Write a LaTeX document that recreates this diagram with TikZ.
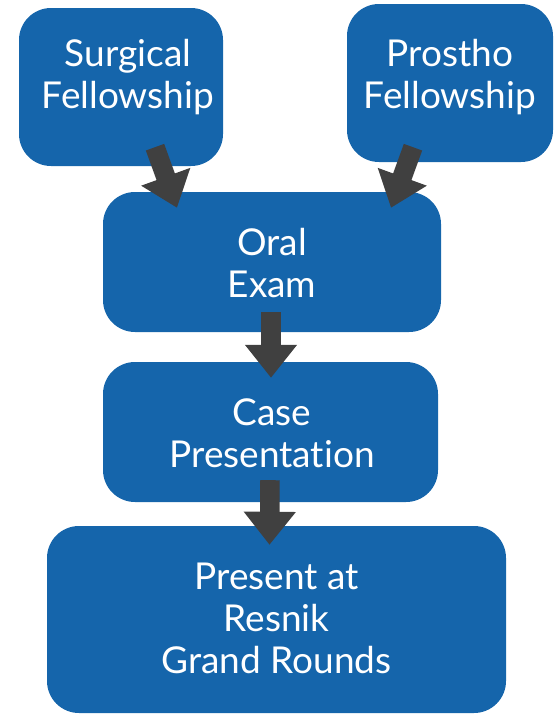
\documentclass[tikz,border=0pt]{standalone}
\usepackage{fontspec}
\setmainfont[Ligatures=NoCommon]{Lato}
\usetikzlibrary{arrows.meta,calc}
\definecolor{boxblue}{RGB}{21,101,171}
\definecolor{arrowgray}{RGB}{64,64,64}
\tikzset{
  box/.style={rectangle, rounded corners=32pt, fill=boxblue, draw=none, inner sep=0pt},
  boxtext/.style={text=white, align=center, inner sep=0pt, font=\fontsize{37}{42}\selectfont},
  bigarrow/.style={draw=arrowgray, line width=19.5pt, -{Triangle[width=50pt,length=33pt,fill=arrowgray]}}
}
\begin{document}
\begin{tikzpicture}[x=1pt,y=-1pt]
\useasboundingbox (0,0) rectangle (558,715);
% boxes
\node[box, minimum width=204pt, minimum height=158pt] (surg) at (121,87) {};
\node[box, minimum width=206pt, minimum height=158pt] (pros) at (450,83) {};
\node[box, minimum width=338pt, minimum height=140pt] (oral) at (272,262) {};
\node[box, minimum width=335pt, minimum height=140pt] (case) at (270.5,432) {};
\node[box, minimum width=459pt, minimum height=187pt] (pres) at (276.5,619.5) {};
% texts
\node[boxtext] (surgt) at (128,77) {Surgical\\Fellowship};
\node[boxtext] (prost) at (450,77) {Prostho\\Fellowship};
\node[boxtext] (oralt) at (272,263) {Oral\\Exam};
\node[boxtext] (caset) at (272,433) {Case\\Presentation};
\node[boxtext] (prest) at (276.5,618) {Present at\\Resnik\\Grand Rounds};
% arrows
\draw[bigarrow] ($(surg.south)+(34,-19)$) -- ($(oral.north)+(-95,16)$);
\draw[bigarrow] ($(pros.south)+(-37,-15)$) -- ($(oral.north)+(119,16)$);
\draw[bigarrow] ($(oral.south)+(-1,-20)$) -- ($(case.north)+(0.5,16)$);
\draw[bigarrow] ($(case.south)+(-0.5,-22)$) -- ($(pres.north)+(-7,19)$);
\end{tikzpicture}
\end{document}
